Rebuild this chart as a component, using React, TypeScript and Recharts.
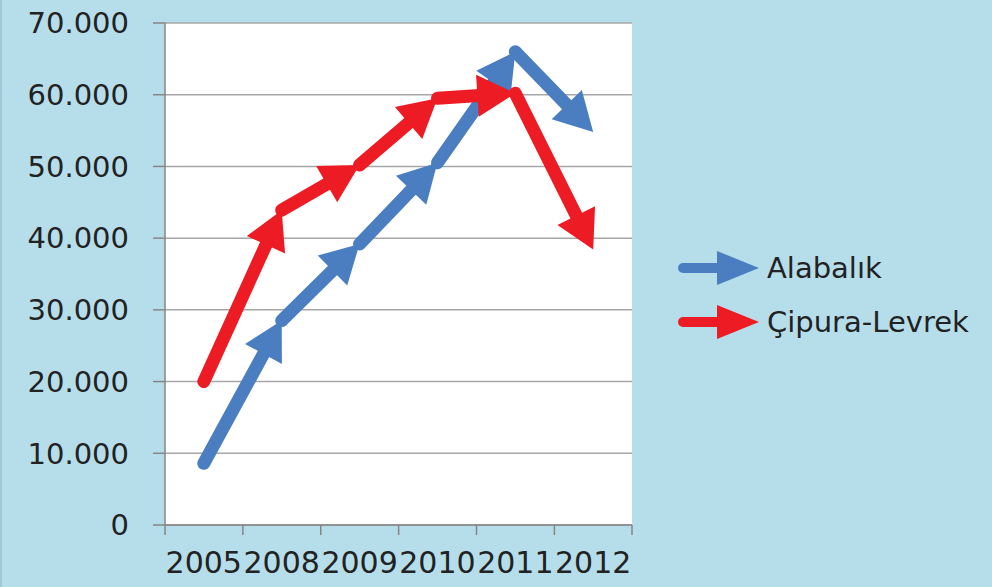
import { LineChart, Line, XAxis, YAxis, CartesianGrid, Legend } from 'recharts';

const YEARS = ['2005', '2008', '2009', '2010', '2011', '2012'];
const ALABALIK = [8600, 28500, 39200, 50500, 66000, 54800];
const CIPURA_LEVREK = [20000, 43900, 50200, 59500, 60200, 38400];
const Y_TICKS = [0, 10000, 20000, 30000, 40000, 50000, 60000, 70000];

const SERIES = [
  { key: 'alabalik', name: 'Alabalık', color: '#4a7ec0' },
  { key: 'cipura', name: 'Çipura-Levrek', color: '#ed1c24' },
];

const data = YEARS.map((year, i) => ({
  year,
  alabalik: ALABALIK[i],
  cipura: CIPURA_LEVREK[i],
}));

const FONT = '"DejaVu Sans", Verdana, sans-serif';
const TEXT = '#222';
const AXIS = '#868686';
const HALF_STEP = 38.8;
const LINE_W = 13;

// each segment is drawn as a shaft plus an arrow head whose tip sits on the point
const renderArrow = (props: any, color: string) => {
  const { cx, cy, index, points } = props;
  if (!points || !points[index]) return <g key={`a-${index}`} />;
  if (index === 0) {
    if (points.length > 1) return <g key={`a-${index}`} />;
    return <circle key={`a-${index}`} cx={cx} cy={cy} r={LINE_W / 2} fill={color} />;
  }
  const prev = points[index - 1];
  const ang = Math.atan2(cy - prev.y, cx - prev.x);
  const len = 38;
  const w = 21;
  const bx = cx - len * Math.cos(ang);
  const by = cy - len * Math.sin(ang);
  const nx = -Math.sin(ang);
  const ny = Math.cos(ang);
  const pts = [
    [cx, cy],
    [bx + w * nx, by + w * ny],
    [bx - w * nx, by - w * ny],
  ]
    .map((p) => p.join(','))
    .join(' ');
  return (
    <g key={`a-${index}`}>
      <line
        x1={prev.x}
        y1={prev.y}
        x2={bx + 2 * Math.cos(ang)}
        y2={by + 2 * Math.sin(ang)}
        stroke={color}
        strokeWidth={LINE_W}
        strokeLinecap="round"
      />
      <polygon points={pts} fill={color} />
    </g>
  );
};

const XTick = ({ x, y, payload, index, visibleTicksCount }: any) => {
  const top = y - 10;
  return (
    <g>
      <line x1={x - HALF_STEP} x2={x - HALF_STEP} y1={top} y2={top + 10} stroke={AXIS} strokeWidth={1.5} />
      {index === visibleTicksCount - 1 && (
        <line x1={x + HALF_STEP} x2={x + HALF_STEP} y1={top} y2={top + 10} stroke={AXIS} strokeWidth={1.5} />
      )}
      <text x={x} y={y + 38} textAnchor="middle" fontSize={30} fontFamily={FONT} fill={TEXT}>
        {payload.value}
      </text>
    </g>
  );
};

const LegendContent = () => (
  <div style={{ fontFamily: FONT, fontSize: 29, color: TEXT }}>
    {SERIES.map((s) => (
      <div key={s.key} style={{ display: 'flex', alignItems: 'center', height: 54 }}>
        <svg width={82} height={36} style={{ display: 'block' }}>
          <line x1={6} x2={42} y1={18} y2={18} stroke={s.color} strokeWidth={10} strokeLinecap="round" />
          <polygon points="40,1 82,18 40,35" fill={s.color} />
        </svg>
        <span style={{ marginLeft: 8, lineHeight: '36px' }}>{s.name}</span>
      </div>
    ))}
  </div>
);

export default function App() {
  return (
    <div
      style={{
        position: 'absolute',
        left: 0,
        top: 0,
        width: 992,
        height: 587,
        background: '#b6deea',
        boxSizing: 'border-box',
        borderLeft: '2px solid #a3c7d3',
      }}
    >
      <LineChart
        width={990}
        height={587}
        data={data}
        margin={{ top: 23, right: 360, bottom: 0, left: 0 }}
      >
        <CartesianGrid
          vertical={false}
          stroke="#a6a6a6"
          strokeWidth={1.5}
          fill="#ffffff"
          fillOpacity={1}
        />
        <XAxis
          dataKey="year"
          padding={{ left: HALF_STEP, right: HALF_STEP }}
          height={62}
          tickSize={10}
          tickMargin={0}
          tickLine={false}
          axisLine={{ stroke: AXIS, strokeWidth: 1.5 }}
          interval={0}
          tick={<XTick />}
        />
        <YAxis
          width={163}
          domain={[0, 70000]}
          ticks={Y_TICKS}
          interval={0}
          tickSize={12}
          tickMargin={24}
          tickLine={{ stroke: AXIS, strokeWidth: 1.5 }}
          axisLine={{ stroke: AXIS, strokeWidth: 1.5 }}
          tick={{ fontSize: 29, fontFamily: FONT, fill: TEXT }}
          tickFormatter={(v: number) => (v === 0 ? '0' : `${v / 1000}.000`)}
        />
        {SERIES.map((s) => (
          <Line
            key={s.key}
            type="linear"
            dataKey={s.key}
            name={s.name}
            stroke="transparent"
            strokeWidth={LINE_W}
            dot={(p: any) => renderArrow(p, s.color)}
            activeDot={false}
            isAnimationActive={false}
          />
        ))}
        <Legend
          layout="vertical"
          align="center"
          verticalAlign="middle"
          wrapperStyle={{ left: 675, top: 241, width: 315 }}
          content={<LegendContent />}
        />
      </LineChart>
    </div>
  );
}
